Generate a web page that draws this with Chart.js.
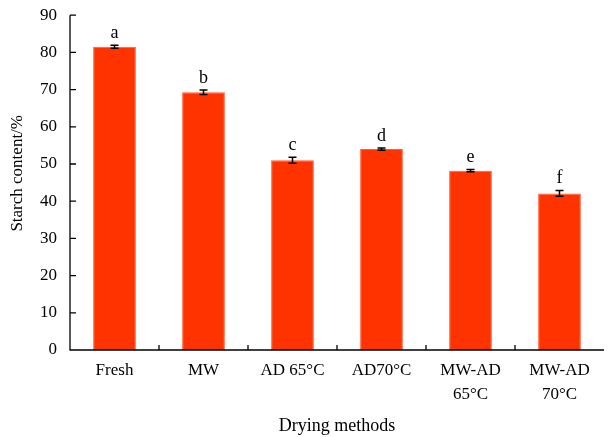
<!DOCTYPE html>
<html>
<head>
<meta charset="utf-8">
<script src="https://cdn.jsdelivr.net/npm/chart.js@4/dist/chart.umd.min.js"></script>
<style>
  html, body { margin: 0; padding: 0; background: #fff; }
  #wrap { width: 608px; height: 437px; }
</style>
</head>
<body>
<div id="wrap"><canvas id="c" width="608" height="437"></canvas></div>
<script>
// Starch content by drying method
const categories = ['Fresh', 'MW', 'AD 65°C', 'AD70°C', ['MW-AD', '65°C'], ['MW-AD', '70°C']];
const starch = [81.5, 69.3, 51.0, 54.0, 48.2, 42.1];
const starchSD = [0.4, 0.6, 0.8, 0.3, 0.3, 0.8];
const groupLetters = ['a', 'b', 'c', 'd', 'e', 'f'];
const yTicks = [0, 10, 20, 30, 40, 50, 60, 70, 80, 90];
const yTitle = 'Starch content/%';

const FONT = '"Liberation Serif", "Times New Roman", serif';

// Error bars, significance letters, axis lines with inward ticks, y title
const decorations = {
  id: 'decorations',
  afterDatasetsDraw(chart) {
    const ctx = chart.ctx;
    const x = chart.scales.x, y = chart.scales.y;
    const meta = chart.getDatasetMeta(0);
    ctx.save();
    ctx.strokeStyle = '#000';
    ctx.lineWidth = 1.5;
    meta.data.forEach((bar, i) => {
      const cx = bar.x;
      const top = y.getPixelForValue(starch[i] + starchSD[i]);
      const bot = y.getPixelForValue(starch[i] - starchSD[i]);
      ctx.beginPath();
      ctx.moveTo(cx, top); ctx.lineTo(cx, bot);
      ctx.moveTo(cx - 4, top); ctx.lineTo(cx + 4, top);
      ctx.moveTo(cx - 4, bot); ctx.lineTo(cx + 4, bot);
      ctx.stroke();
      ctx.fillStyle = '#000';
      ctx.font = '18px ' + FONT;
      ctx.textAlign = 'center';
      ctx.textBaseline = 'bottom';
      ctx.fillText(groupLetters[i], cx, top - 3);
    });
    ctx.lineWidth = 1.3;
    ctx.beginPath();
    ctx.moveTo(x.left, y.top); ctx.lineTo(x.left, y.bottom); ctx.lineTo(x.right, y.bottom);
    yTicks.forEach(v => {
      const py = y.getPixelForValue(v);
      ctx.moveTo(x.left, py); ctx.lineTo(x.left + 6, py);
    });
    for (let i = 1; i < categories.length; i++) {
      const px = (x.getPixelForValue(i - 1) + x.getPixelForValue(i)) / 2;
      ctx.moveTo(px, y.bottom); ctx.lineTo(px, y.bottom - 5);
    }
    ctx.stroke();
    // rotated y-axis title
    ctx.translate(18, y.getPixelForValue(47.5));
    ctx.rotate(-Math.PI / 2);
    ctx.fillStyle = '#000';
    ctx.font = '17px ' + FONT;
    ctx.textAlign = 'center';
    ctx.textBaseline = 'middle';
    ctx.fillText(yTitle, 0, 0);
    ctx.restore();
  }
};

new Chart(document.getElementById('c'), {
  type: 'bar',
  data: {
    labels: categories,
    datasets: [{
      data: starch,
      backgroundColor: '#FF3300',
      borderColor: '#FF5a33',
      borderWidth: 1,
      barPercentage: 0.48,
      categoryPercentage: 1.0
    }]
  },
  options: {
    responsive: false,
    animation: false,
    layout: { padding: { left: 0, right: 4, top: 3, bottom: 0 } },
    plugins: { legend: { display: false }, tooltip: { enabled: false } },
    scales: {
      x: {
        grid: { display: false },
        border: { display: false },
        ticks: {
          color: '#000',
          font: { family: FONT, size: 17, lineHeight: 1.4 },
          padding: 1,
          maxRotation: 0,
          autoSkip: false
        },
        title: {
          display: true,
          text: 'Drying methods',
          color: '#000',
          font: { family: FONT, size: 18 },
          padding: { top: 10, bottom: 0 }
        },
        afterFit(scale) { scale.height = 87; }
      },
      y: {
        min: 0,
        max: 90,
        grid: { display: false },
        border: { display: false },
        afterBuildTicks(scale) { scale.ticks = yTicks.map(v => ({ value: v })); },
        ticks: {
          color: '#000',
          font: { family: FONT, size: 17 },
          padding: 5
        },
        afterFit(scale) { scale.width = 70; }
      }
    }
  },
  plugins: [decorations]
});
</script>
</body>
</html>
